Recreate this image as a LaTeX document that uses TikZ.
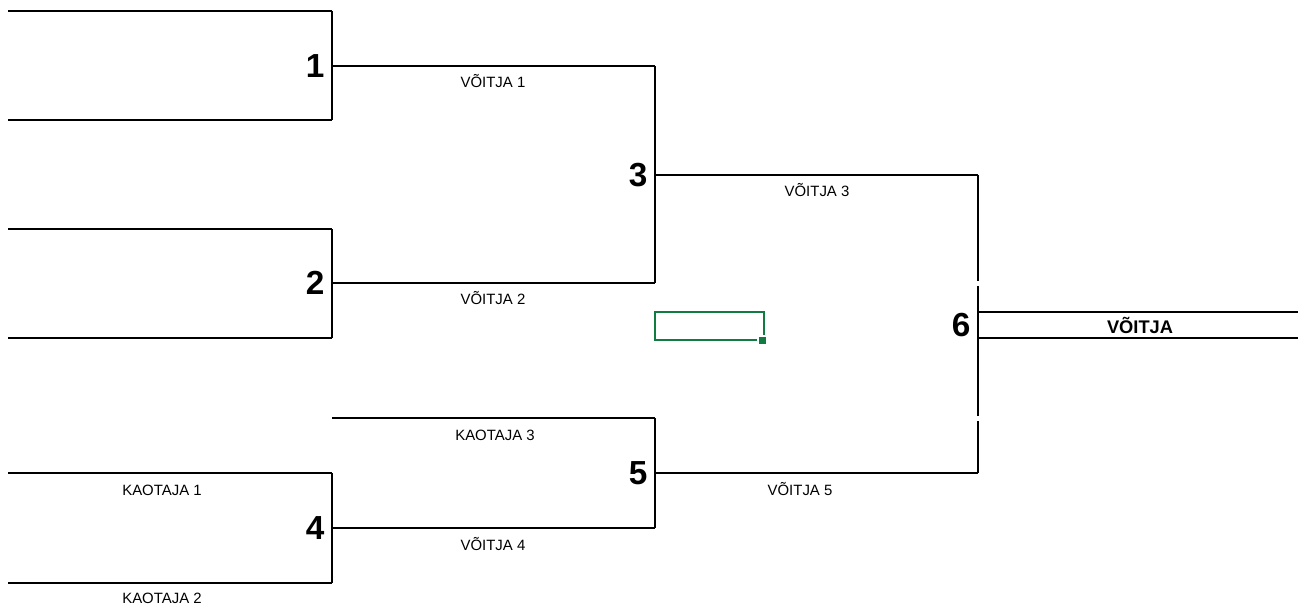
\documentclass[tikz,border=0pt]{standalone}
\usepackage{fontspec}
\setmainfont{Liberation Sans}
\usetikzlibrary{positioning}
\definecolor{cellgreen}{RGB}{16,124,65}
\tikzset{
  hline/.style={line width=1.6pt},
  vline/.style={line width=1.1pt},
  num/.style={font=\bfseries\fontsize{25}{25}\selectfont, inner sep=0pt},
  lbl/.style={font=\fontsize{11.2}{11.2}\selectfont, inner sep=0pt},
}
\begin{document}
\begin{tikzpicture}[x=0.75pt,y=0.75pt,yscale=-1] % flip y axis
      \useasboundingbox (0,0) rectangle (1298,607);
      % match ends
      \coordinate (w1) at (332,66);
      \coordinate (w2) at (332,283);
      \coordinate (w3) at (655,175);
      \coordinate (w4) at (332,528);
      \coordinate (w5) at (655,473);
      \coordinate (w6) at (978,325);
      % first round brackets
      \foreach \i/\t/\b in {1/11/120, 2/229/338, 4/473/583}{
          \draw[hline] (8,\t) -- (332,\t);
          \draw[hline] (8,\b) -- (332,\b);
          \draw[vline] (332,\t) -- (332,\b);
        }
      \draw[hline] (w1) -- (655,66);
      \draw[hline] (w2) -- (655,283);
      \draw[vline] (655,66) -- (655,283);
      \draw[hline] (w4) -- (655,528);
      \draw[hline] (332,418) -- (655,418);
      \draw[vline] (655,418) -- (655,528);
      \draw[hline] (w3) -- (978,175);
      \draw[hline] (w5) -- (978,473);
      \draw[vline] (978,175) -- (978,281) (978,286) -- (978,416) (978,421) -- (978,473);
      \draw[hline] (978,312) -- (1298,312);
      \draw[hline] (978,338) -- (1298,338);
      % numbers
      \foreach \i in {1,...,6}{
          \node[num, left=5.5pt of w\i] (n\i) {\i};
        }
      % labels
      \node[lbl] (v1) at (493,81) {VÕITJA 1};
      \node[lbl] (v2) at (493,298) {VÕITJA 2};
      \node[lbl] (v3) at (817,190) {VÕITJA 3};
      \node[lbl] (v4) at (493,544) {VÕITJA 4};
      \node[lbl] (v5) at (800,489) {VÕITJA 5};
      \node[lbl] (k1) at (162,490) {KAOTAJA 1};
      \node[lbl] (k2) at (162,598) {KAOTAJA 2};
      \node[lbl] (k3) at (495,435) {KAOTAJA 3};
      \node[lbl, font=\bfseries\fontsize{13.7}{13.7}\selectfont] (v) at (1140,325) {VÕITJA};
      % selected cell
      \draw[cellgreen, line width=1.6pt] (655,312) rectangle (764,340);
      \draw[white, fill=cellgreen, line width=0.8pt] (758,336) rectangle (767,345);
    \end{tikzpicture}
\end{document}
